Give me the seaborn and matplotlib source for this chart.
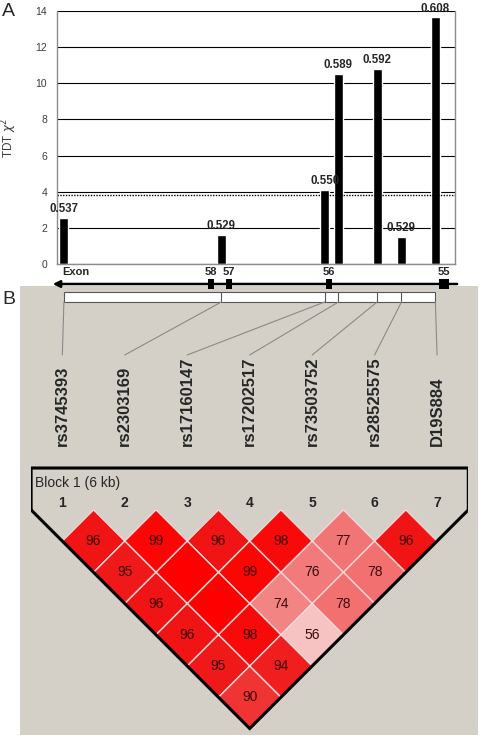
import numpy as np
import matplotlib
matplotlib.use('Agg')
import matplotlib.pyplot as plt
import seaborn as sns
from matplotlib.patches import Rectangle, Polygon, ConnectionPatch
from matplotlib.colors import LinearSegmentedColormap, Normalize

# --- data ---
# panel A: TDT chi-square per marker, positioned along the gene
snp_pos = [0.13, 3.10, 5.05, 5.31, 6.04, 6.50, 7.14]
tdt_chi2 = [2.55, 1.6, 4.1, 10.5, 10.8, 1.5, 13.65]
transmission = ['0.537', '0.529', '0.550', '0.589', '0.592', '0.529', '0.608']
chi2_threshold = 3.84
exon_names = ['58', '57', '56', '55']
exon_start = [2.85, 3.19, 5.08, 7.21]
exon_end = [2.96, 3.30, 5.19, 7.40]

# panel B: markers and pairwise D' (100 = shown without number)
marker_names = ['rs3745393', 'rs2303169', 'rs17160147', 'rs17202517',
                'rs73503752', 'rs28525575', 'D19S884']
ld_first = [1, 2, 3, 4, 5, 6, 1, 2, 3, 4, 5, 1, 2, 3, 4, 1, 2, 3, 1, 2, 1]
ld_second = [2, 3, 4, 5, 6, 7, 3, 4, 5, 6, 7, 4, 5, 6, 7, 5, 6, 7, 6, 7, 7]
ld_dprime = [96, 99, 96, 98, 77, 96, 95, 100, 99, 76, 78,
             96, 100, 74, 78, 96, 98, 56, 95, 94, 90]

sns.set_style('white')
plt.rcParams['font.family'] = ['Liberation Sans', 'DejaVu Sans']

W, H = 480, 738
fig = plt.figure(figsize=(W / 100, H / 100), dpi=100)

# background layer (pixel coordinates) for panel B's grey box
bg = fig.add_axes([0, 0, 1, 1])
bg.set_xlim(0, W)
bg.set_ylim(H, 0)
bg.axis('off')
bg.add_patch(Rectangle((20, 286), 458, 449, color='#D4D0C8', lw=0))
fig.text(2 / W, 1 - 11 / H, 'A', fontsize=14, va='center', ha='left')
fig.text(2 / W, 1 - 300 / H, 'B', fontsize=14, va='center', ha='left')

# --- panel A: bar chart ---
ax = fig.add_axes([57 / W, 1 - 264 / H, 398 / W, 253 / H])
bar_w = 9 / 53
sns.barplot(x=snp_pos, y=tdt_chi2, native_scale=True, color='black',
            saturation=1, errorbar=None,
            width=bar_w / np.min(np.diff(snp_pos)), ax=ax)
ax.set_xlim(0, 7.51)
ax.set_ylim(0, 14)
ax.set_yticks(range(0, 15, 2))
ax.set_xticks(range(0, 8))
ax.set_xticklabels([])
ax.yaxis.grid(True, color='black', lw=0.8)
ax.set_axisbelow(True)
ax.axhline(chi2_threshold, color='black', ls=(0, (1, 1)), lw=1)
for s in ['left', 'bottom', 'right']:
    ax.spines[s].set_color('#8c8c8c')
    ax.spines[s].set_linewidth(1)
ax.spines['top'].set_visible(False)
ax.tick_params(axis='both', length=4, color='#8c8c8c', direction='out',
               labelsize=7.5, labelcolor='#3c3c3c', pad=3)
ax.set_ylabel('TDT $\\chi^2$', fontsize=8.5, color='#3c3c3c')
ax.yaxis.set_label_coords(-0.095, 0.50)
ax.set_xlabel('')
for x, h, t in zip(snp_pos, tdt_chi2, transmission):
    ax.annotate(t, (x, h), xytext=(0, 2), textcoords='offset points',
                ha='center', va='bottom', fontsize=8.3, fontweight='bold',
                annotation_clip=False)

# --- gene map under the bar chart ---
gax = fig.add_axes([57 / W, 1 - 306 / H, 398 / W, 38 / H])
gax.set_xlim(0, 7.51)
gax.set_ylim(22, -16)
gax.axis('off')
gax.patch.set_alpha(0)
gax.annotate('', xy=(-0.08, 0), xytext=(7.55, 0),
             arrowprops=dict(arrowstyle='-|>', color='black', lw=1.8,
                             mutation_scale=10, shrinkA=0, shrinkB=0),
             annotation_clip=False)
for name, s, e in zip(exon_names, exon_start, exon_end):
    gax.add_patch(Rectangle((s, -5), e - s, 10, color='black', lw=0))
    gax.text((s + e) / 2, -7, name, ha='center', va='bottom',
             fontsize=8, fontweight='bold')
gax.text(0.09, -7, 'Exon', ha='left', va='bottom', fontsize=8,
         fontweight='bold')
gax.add_patch(Rectangle((snp_pos[0], 8), snp_pos[-1] - snp_pos[0], 10,
                        fc='white', ec='#555555', lw=0.8))
gax.vlines(snp_pos[1:-1], 8, 18, color='#555555', lw=0.8)

# --- panel B: LD plot ---
n = len(marker_names)
lax = fig.add_axes([31.1 / W, 2 / H, 437.2 / W, 436 / H])
lax.set_xlim(0.5, n + 0.5)
lax.set_ylim(3.62, -3.36)
lax.axis('off')
lax.patch.set_alpha(0)

for k, name in enumerate(marker_names):
    lax.text(k + 1, -1.02, name, rotation=90, ha='center', va='bottom',
             fontsize=12, fontweight='bold')
    con = ConnectionPatch(xyA=(snp_pos[k], 18), coordsA=gax.transData,
                          xyB=(k + 1, -2.48), coordsB=lax.transData,
                          color='#8a8a8a', lw=0.8)
    fig.add_artist(con)
    lax.text(k + 1, -0.11, str(k + 1), ha='center', va='center',
             fontsize=10, fontweight='bold')

ld_cmap = LinearSegmentedColormap.from_list(
    'ld', [(0.0, '#FFDADA'), (0.12, '#F7C2C2'), (0.48, '#F28484'),
           (0.56, '#F27070'), (0.8, '#F03434'), (0.92, '#F01414'),
           (1.0, '#FF0000')])
norm = Normalize(vmin=50, vmax=100)
for i, j, v in zip(ld_first, ld_second, ld_dprime):
    cx, cy = (i + j) / 2, (j - i) / 2
    lax.add_patch(Polygon([(cx - 0.5, cy), (cx, cy - 0.5), (cx + 0.5, cy),
                           (cx, cy + 0.5)], closed=True,
                          fc=ld_cmap(norm(v)), ec='#F2D8D8', lw=1))
    if v < 100:
        lax.text(cx, cy, str(v), ha='center', va='center', fontsize=10,
                 color='#3a0c0c')

lax.text(0.56, -0.43, 'Block 1 (6 kb)', ha='left', va='center', fontsize=10)
lax.plot([0.5, 0.5, n + 0.5, n + 0.5, (n + 1) / 2, 0.5],
         [0, -0.67, -0.67, 0, n / 2, 0], color='black', lw=2.2,
         solid_joinstyle='miter')

fig.savefig('out.png', dpi=100)
